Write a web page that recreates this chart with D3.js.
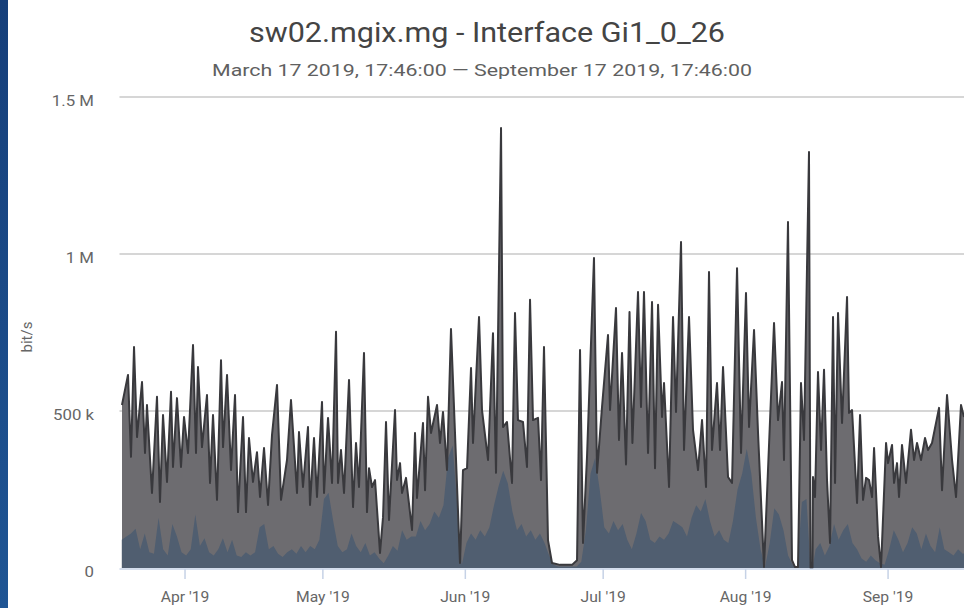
<!DOCTYPE html>
<html>
<head>
<meta charset="utf-8">
<script src="https://cdn.jsdelivr.net/npm/d3@7"></script>
<style>
  html, body { margin: 0; padding: 0; background: #fff; }
  svg { display: block; font-family: Roboto, "Liberation Sans", sans-serif; }
</style>
</head>
<body>
<div id="chart"></div>
<script>
// time range of the graph
var startDate = new Date(2019, 2, 17, 17, 46);
var endDate = new Date(2019, 8, 17, 17, 46);

// inbound traffic: [days since start, kbit/s]
var inbound = [
  [0.54, 519], [1.85, 615], [2.50, 354], [3.16, 704], [3.81, 417], [4.90, 592], [5.55, 366], [5.98, 519],
  [7.07, 239], [8.16, 545], [8.81, 210], [9.47, 487], [10.34, 274], [11.21, 561], [11.64, 322], [12.51, 541],
  [13.38, 322], [14.04, 481], [14.91, 366], [16.00, 710], [16.65, 366], [17.08, 640], [17.95, 385], [19.04, 551],
  [19.70, 271], [20.35, 487], [21.22, 217], [22.09, 662], [22.53, 385], [23.40, 615], [24.27, 312], [25.14, 551],
  [25.79, 178], [26.88, 481], [27.53, 178], [28.18, 414], [29.05, 274], [29.92, 369], [30.58, 226], [31.45, 382],
  [32.32, 201], [33.19, 424], [34.28, 583], [35.15, 217], [36.45, 344],
  [37.32, 535], [38.63, 239], [39.06, 433], [39.93, 258], [41.02, 449], [41.46, 201], [42.33, 414], [42.98, 226],
  [44.07, 529], [44.51, 239], [45.38, 478], [46.25, 271], [47.12, 752], [47.55, 271], [48.20, 376], [48.86, 239],
  [49.95, 599], [50.82, 194], [51.47, 398], [52.12, 258], [53.21, 685], [53.86, 178], [54.30, 318], [54.95, 258],
  [55.61, 280], [56.69, 48], [57.35, 162], [58.00, 465], [58.65, 153], [59.96, 503], [60.39, 280], [61.05, 334],
  [61.48, 239], [62.35, 287], [63.66, 121], [64.31, 430], [64.74, 223], [66.05, 462], [66.49, 248], [67.14, 545],
  [67.79, 430], [69.10, 519], [69.75, 398], [70.40, 497], [71.27, 312], [72.14, 761],
  [74.10, 16], [74.75, 312], [75.63, 318], [76.50, 637], [76.93, 398], [78.24, 799], [78.89, 503], [80.20, 344],
  [81.28, 748], [81.94, 303], [83.03, 1401], [83.46, 449], [84.33, 465], [85.42, 271], [86.07, 812], [86.72, 471],
  [87.81, 465], [88.68, 322], [89.34, 854], [89.99, 471], [91.08, 478], [91.73, 280], [92.38, 704], [93.25, 89],
  [94.12, 16], [95.87, 10], [98.48, 10], [99.57, 25], [100.22, 694], [100.87, 80], [101.74, 354], [103.26, 987],
  [103.92, 303], [105.01, 513], [106.31, 742], [106.75, 503], [108.05, 828], [108.70, 408], [109.36, 685],
  [110.23, 330], [110.99, 815], [111.62, 398], [112.84, 879], [113.49, 513], [114.14, 879], [115.02, 366],
  [115.89, 847], [116.54, 318], [117.20, 838], [118.07, 481], [118.50, 589], [119.59, 258], [120.46, 799],
  [121.11, 497], [122.20, 1038], [122.85, 376], [123.94, 799], [124.81, 440], [125.90, 312], [126.77, 471],
  [127.64, 258], [128.29, 943], [128.94, 376], [130.03, 589], [130.69, 376], [131.34, 640], [132.43, 290],
  [133.30, 271], [134.39, 955], [135.26, 366], [136.34, 876], [137.00, 449], [138.09, 758], [138.96, 430],
  [140.26, 3], [141.13, 312], [142.44, 780], [143.31, 471], [144.18, 592], [144.61, 344], [145.48, 1102],
  [146.35, 25], [147.01, 3], [147.66, 3], [148.31, 589], [148.97, 408], [150.05, 1325],
  [150.92, 290], [151.36, 226], [152.01, 624], [152.67, 376], [153.32, 631], [153.97, 280], [154.63, 80],
  [155.28, 799], [155.72, 271], [156.37, 812], [157.24, 462], [158.33, 863], [158.76, 494], [159.42, 503],
  [160.51, 207], [161.16, 487], [161.81, 217], [162.47, 287], [163.12, 280], [163.77, 226], [164.21, 382],
  [165.08, 99], [165.73, 3], [166.82, 398], [167.25, 334], [168.12, 392], [168.56, 271], [169.21, 334],
  [169.64, 226], [170.29, 392], [171.16, 271], [172.25, 440], [172.91, 344], [173.56, 398], [174.43, 344],
  [175.30, 414], [175.95, 376], [176.82, 398], [178.35, 510], [179.00, 248], [180.09, 551], [181.18, 344],
  [182.05, 226], [183.13, 519], [183.78, 481]
];

// outbound traffic, one daily value (kbit/s)
var outboundDaily = [
  90, 100, 110, 125, 60, 110, 50, 45, 160, 60,
  40, 140, 100, 50, 40, 60, 170, 70, 95, 50,
  40, 60, 95, 50, 90, 40, 35, 50, 40, 50,
  130, 140, 60, 70, 45, 35, 50, 60, 45, 70,
  50, 70, 60, 90, 220, 240, 150, 70, 50, 60,
  110, 70, 50, 80, 40, 50, 30, 15, 40, 70,
  55, 120, 90, 100, 100, 150, 120, 140, 180, 160,
  200, 350, 390, 200, 10, 80, 110, 90, 120, 100,
  130, 200, 260, 310, 270, 180, 120, 140, 100, 120,
  90, 110, 80, 40, 10, 5, 5, 5, 5, 5,
  20, 120, 300, 350, 250, 130, 110, 150, 120, 140,
  90, 60, 110, 175, 150, 90, 80, 100, 90, 110,
  150, 140, 130, 100, 160, 200, 180, 220, 150, 100,
  120, 90, 80, 150, 250, 300, 380, 300, 160, 60,
  5, 80, 190, 170, 120, 40, 10, 3, 210, 220,
  220, 60, 80, 40, 70, 140, 90, 120, 140, 80,
  60, 30, 20, 40, 25, 15, 10, 60, 120, 90,
  50, 80, 130, 110, 60, 110, 70, 50, 130, 60,
  50, 40, 60, 45, 50
];

// polling gaps (days since start) where nothing was recorded
var gaps = [[150.38, 150.81]];

var yTicks = [0, 500, 1000, 1500];
var yTickLabels = ["0", "500 k", "1 M", "1.5 M"];

var title = "sw02.mgix.mg - Interface Gi1_0_26";
var subtitle = "March 17 2019, 17:46:00 \u2014 September 17 2019, 17:46:00";

var width = 964, height = 608;
var margin = { left: 119.5, right: 965, top: 97, bottom: 568 };
var DAY = 864e5;
// the screenshot is a little wider than tall, so text gets stretched sideways
var stretch = 1.2;

function withGaps(points) {
  var kept = points.filter(function (p) {
    return !gaps.some(function (g) { return p[0] > g[0] && p[0] < g[1]; });
  });
  gaps.forEach(function (g) { kept.push([g[0], 0], [g[1], 0]); });
  kept.sort(function (a, b) { return a[0] - b[0]; });
  return kept.map(function (p) {
    return { date: new Date(startDate.getTime() + p[0] * DAY), value: p[1] };
  });
}

var inSeries = withGaps(inbound);
var outSeries = withGaps(outboundDaily.map(function (v, i) { return [i + 0.5, v]; }));

var x = d3.scaleTime().domain([startDate, endDate]).range([margin.left, margin.right]);
var y = d3.scaleLinear().domain([0, 1500]).range([margin.bottom, margin.top]);

var svg = d3.select("#chart").append("svg")
  .attr("width", width)
  .attr("height", height);

svg.append("rect").attr("width", width).attr("height", height).attr("fill", "#fff");

// blue page edge from the screenshot
var defs = svg.append("defs");
var grad = defs.append("linearGradient")
  .attr("id", "edge").attr("x1", 0).attr("y1", 0).attr("x2", 0).attr("y2", 1);
grad.append("stop").attr("offset", 0).attr("stop-color", "#163f7a");
grad.append("stop").attr("offset", 1).attr("stop-color", "#1f5594");
svg.append("rect").attr("x", 0).attr("y", 0).attr("width", 8).attr("height", height).attr("fill", "url(#edge)");

defs.append("clipPath").attr("id", "plot")
  .append("rect")
  .attr("x", margin.left).attr("y", margin.top - 10)
  .attr("width", margin.right - margin.left).attr("height", margin.bottom - margin.top + 11);

svg.append("text")
  .attr("x", 487).attr("y", 42)
  .attr("text-anchor", "middle")
  .attr("font-size", 28)
  .attr("fill", "#444")
  .attr("textLength", 476)
  .attr("lengthAdjust", "spacingAndGlyphs")
  .text(title);

svg.append("text")
  .attr("x", 482).attr("y", 76)
  .attr("text-anchor", "middle")
  .attr("font-size", 17)
  .attr("fill", "#606060")
  .attr("textLength", 540)
  .attr("lengthAdjust", "spacingAndGlyphs")
  .text(subtitle);

// grid + y labels
svg.append("g").selectAll("line")
  .data(yTicks.filter(function (t) { return t > 0; }))
  .enter().append("line")
  .attr("x1", margin.left).attr("x2", width)
  .attr("y1", function (d) { return y(d); })
  .attr("y2", function (d) { return y(d); })
  .attr("stroke", "#c8c8c8")
  .attr("stroke-width", 1.5);

svg.append("g").selectAll("text")
  .data(yTicks)
  .enter().append("text")
  .attr("transform", function (d) { return "translate(94," + (y(d) + 9) + ") scale(" + stretch + ",1)"; })
  .attr("text-anchor", "end")
  .attr("font-size", 14)
  .attr("fill", "#666")
  .text(function (d, i) { return yTickLabels[i]; });

svg.append("text")
  .attr("transform", "translate(32,337) rotate(-90)")
  .attr("text-anchor", "middle")
  .attr("font-size", 15)
  .attr("fill", "#666")
  .text("bit/s");

var area = d3.area()
  .x(function (d) { return x(d.date); })
  .y0(y(0))
  .y1(function (d) { return y(d.value); });

var line = d3.line()
  .x(function (d) { return x(d.date); })
  .y(function (d) { return y(d.value); });

var plot = svg.append("g").attr("clip-path", "url(#plot)");

plot.append("path")
  .datum(inSeries)
  .attr("d", area)
  .attr("fill", "#6d6c70");

plot.append("path")
  .datum(outSeries)
  .attr("d", area)
  .attr("fill", "#505e70");

plot.append("path")
  .datum(inSeries)
  .attr("d", line)
  .attr("fill", "none")
  .attr("stroke", "#39393d")
  .attr("stroke-width", 2)
  .attr("stroke-linejoin", "round");

// x axis
svg.append("line")
  .attr("x1", margin.left).attr("x2", width)
  .attr("y1", y(0) + 1).attr("y2", y(0) + 1)
  .attr("stroke", "#c6d2e6")
  .attr("stroke-width", 1.5);

var months = x.ticks(d3.timeMonth.every(1));
var xAxis = svg.append("g");
xAxis.selectAll("line")
  .data(months)
  .enter().append("line")
  .attr("x1", function (d) { return x(d); })
  .attr("x2", function (d) { return x(d); })
  .attr("y1", y(0) + 1).attr("y2", y(0) + 11)
  .attr("stroke", "#c6d2e6")
  .attr("stroke-width", 1.5);
xAxis.selectAll("text")
  .data(months)
  .enter().append("text")
  .attr("transform", function (d) { return "translate(" + x(d) + ",602) scale(1.12,1)"; })
  .attr("text-anchor", "middle")
  .attr("font-size", 14)
  .attr("fill", "#666")
  .text(d3.timeFormat("%b '%y"));
</script>
</body>
</html>
